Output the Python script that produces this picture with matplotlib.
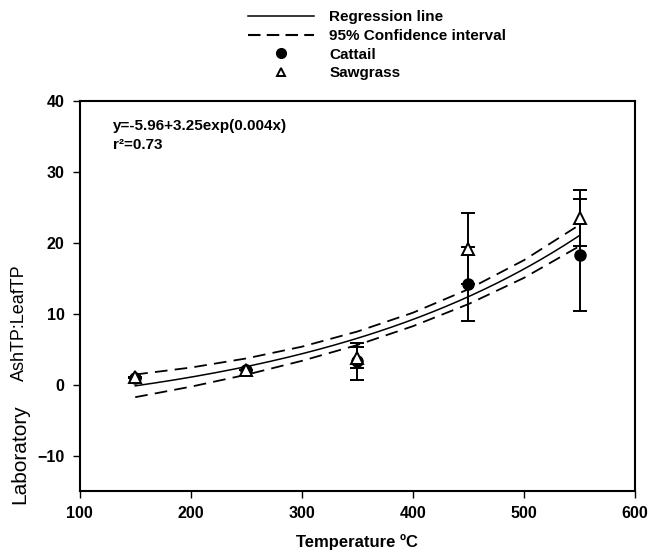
import numpy as np
import matplotlib
matplotlib.use("Agg")
from matplotlib import pyplot as plt
from matplotlib.lines import Line2D

plt.rcParams['font.family'] = ['Liberation Sans', 'DejaVu Sans']

# temperatura de la mufla (C)
temps = [150, 250, 350, 450, 550]

# relacion AshTP:LeafTP medida
cattail = [1.0, 2.0, 3.3, 14.2, 18.3]
cattail_err = [0.0, 0.0, 2.6, 5.2, 7.9]
sawgrass = [1.1, 2.0, 3.8, 19.2, 23.5]
sawgrass_err = [0.0, 0.0, 1.5, 5.0, 4.0]

# coeficientes del ajuste y = a + b*exp(c*x)
a_fit = -5.96
b_fit = 3.25
c_fit = 0.00385
r2_fit = 0.73

# semiancho del intervalo de confianza 95% a lo largo de la curva
ci_x = [150, 200, 250, 300, 350, 400, 450, 500, 550]
ci_half = [1.6, 1.35, 1.15, 1.0, 0.95, 0.95, 1.05, 1.25, 1.5]

xx = np.array(ci_x, dtype=float)
yfit = a_fit + b_fit * np.exp(c_fit * xx)
xs = np.linspace(150, 550, 200)
ys = a_fit + b_fit * np.exp(c_fit * xs)

fig = plt.figure(figsize=(6.48, 5.56), dpi=100)
ax = fig.add_axes([0.123, 0.117, 0.857, 0.701])

ax.plot(xs, ys, color='black', lw=1.1)
dash = (0, (7, 4))
ax.plot(xx, yfit + np.array(ci_half), color='black', lw=1.3, linestyle=dash)
ax.plot(xx, yfit - np.array(ci_half), color='black', lw=1.3, linestyle=dash)

ax.errorbar(temps, cattail, yerr=cattail_err, fmt='o', color='black',
            ms=8, capsize=5, elinewidth=1.4, capthick=1.4, zorder=3)
ax.errorbar(temps, sawgrass, yerr=sawgrass_err, fmt='^', color='black',
            mfc='white', mec='black', mew=1.4, ms=8, capsize=5,
            elinewidth=1.4, capthick=1.4, zorder=4)

ax.set_xlim(100, 600)
ax.set_ylim(-15, 40)
ax.set_xticks([100, 200, 300, 400, 500, 600])
ax.set_yticks([-10, 0, 10, 20, 30, 40])
ax.tick_params(direction='out', length=5, width=1, labelsize=11.5, pad=6)
for lab in ax.get_xticklabels() + ax.get_yticklabels():
    lab.set_fontweight('bold')
for sp in ax.spines.values():
    sp.set_linewidth(1.5)

ax.text(0.06, 0.955, 'y=-5.96+3.25exp(0.004x)', transform=ax.transAxes,
        fontsize=11, fontweight='bold', va='top')
ax.text(0.06, 0.905, 'r\u00b2=%.2f' % r2_fit, transform=ax.transAxes,
        fontsize=11, fontweight='bold', va='top')

ax.set_xlabel('Temperature \u00baC', fontsize=12, fontweight='bold', labelpad=9)
fig.text(0.03, 0.184, 'Laboratory', rotation=90, fontsize=15,
         ha='center', va='center')
fig.text(0.03, 0.42, 'AshTP:LeafTP', rotation=90, fontsize=13,
         ha='center', va='center')

handles = [
    Line2D([], [], color='black', lw=1.1),
    Line2D([], [], color='black', lw=1.5, linestyle=(0, (6, 3))),
    Line2D([], [], color='black', marker='o', linestyle='none', ms=7),
    Line2D([], [], color='black', marker='^', mfc='white', mew=1.4,
           linestyle='none', ms=6),
]
labels = ['Regression line', '95% Confidence interval', 'Cattail', 'Sawgrass']
fig.legend(handles, labels, loc='upper left', bbox_to_anchor=(0.362, 1.006),
           frameon=False, handlelength=4.3, handletextpad=1.0,
           labelspacing=0.3, prop={'weight': 'bold', 'size': 11})

fig.savefig('out.png', dpi=100)
